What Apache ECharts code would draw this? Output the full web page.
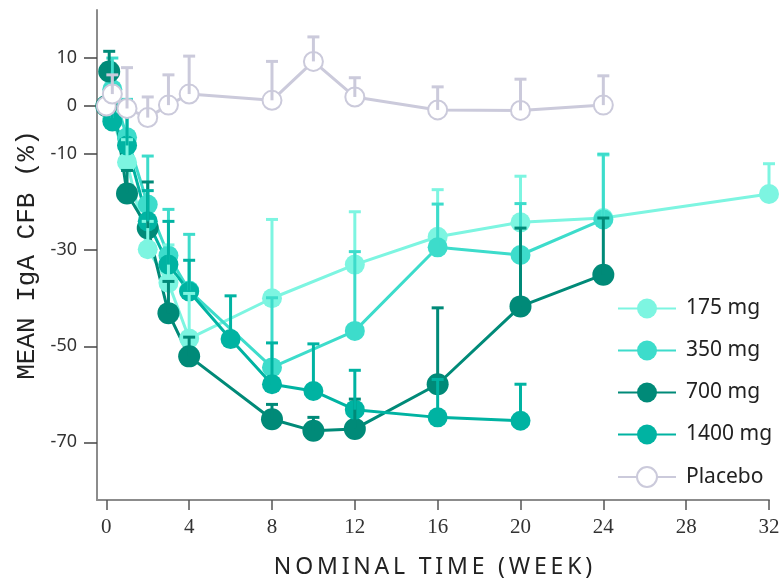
<!DOCTYPE html>
<html lang="en">
<head>
<meta charset="UTF-8">
<title>Mean IgA CFB</title>
<script src="https://cdn.jsdelivr.net/npm/echarts@6.0.0/dist/echarts.min.js"></script>
<style>html,body{margin:0;padding:0;background:#fff;}</style>
</head>
<body>
<div id="chart" style="width:783px;height:584px;"></div>
<script>
var xTicks = [0, 4, 8, 12, 16, 20, 24, 28, 32];
var yTicks = [10, 0, -10, -30, -50, -70];

var names = ['175 mg', '350 mg', '700 mg', '1400 mg', 'Placebo'];
var colors = ['#7df5e1', '#3ddccb', '#008a78', '#00b3a2', '#cbcadb'];

// week, mean change from baseline, top of the error bar
var weeks175 = [0, 0.29, 1, 2, 3, 4, 8, 12, 16, 20, 24, 32];
var mean175 = [0, -2.5, -11.7, -29.8, -36.8, -48.4, -40.0, -33.0, -27.2, -24.2, -23.3, -18.3];
var upper175 = [null, 3, -7, -24, -28.9, -39, -23.6, -22.0, -17.4, -14.6, -10.2, -12.0];

var weeks350 = [0, 0.29, 1, 2, 3, 4, 8, 12, 16, 20, 24];
var mean350 = [0, 3.5, -6.5, -20.5, -31.1, -38.4, -54.4, -46.8, -29.4, -31.0, -23.6];
var upper350 = [null, 10, 1.4, -10.4, -21.5, -26.7, -39.9, -30.3, -20.4, -20.3, -10.0];

var weeks700 = [0, 0.14, 1, 2, 3, 4, 8, 10, 12, 16, 20, 24];
var mean700 = [0, 7.2, -18.2, -25.4, -43.1, -52.1, -65.2, -67.6, -67.2, -57.9, -41.7, -35.1];
var upper700 = [null, 11.4, -13.4, -15.8, -36.5, -48.1, -62.1, -64.8, -61.0, -42.0, -25.4, -23.3];

var weeks1400 = [0, 0.29, 1, 2, 3, 4, 6, 8, 10, 12, 16, 20];
var mean1400 = [0, -3.2, -8.2, -24.0, -33.0, -38.6, -48.5, -57.9, -59.3, -63.2, -64.8, -65.5];
var upper1400 = [null, 1.0, -0.6, -17.6, -24.0, -32.1, -39.5, -49.3, -49.5, -55.0, -56.9, -57.9];

var weeksPbo = [0, 0.29, 1, 2, 3, 4, 8, 10, 12, 16, 20, 24];
var meanPbo = [0, 2.5, -0.5, -2.4, 0.2, 2.5, 1.2, 9.3, 1.9, -0.8, -0.9, 0.2];
var upperPbo = [null, 6.5, 8, 1.9, 6.5, 10.4, 9.3, 14.4, 5.9, 4.0, 5.6, 6.3];

var groups = [
    [weeks175, mean175, upper175],
    [weeks350, mean350, upper350],
    [weeks700, mean700, upper700],
    [weeks1400, mean1400, upper1400],
    [weeksPbo, meanPbo, upperPbo]
];

function spaced(s, gap) {
    return s.split('').join(gap);
}

function lineSeries(i) {
    var g = groups[i];
    var data = [];
    for (var k = 0; k < g[0].length; k++) data.push([g[0][k], g[1][k]]);
    var placebo = names[i] === 'Placebo';
    return {
        name: names[i],
        type: 'line',
        data: data,
        z: placebo ? 4 : 2,
        symbol: placebo ? 'emptyCircle' : 'circle',
        symbolSize: placebo ? 19 : (i === 2 ? 22 : 20),
        showAllSymbol: true,
        lineStyle: { color: colors[i], width: 3 },
        itemStyle: placebo ? { color: colors[i], borderColor: colors[i], borderWidth: 3 } : { color: colors[i] },
        emphasis: { disabled: true },
        animation: false
    };
}

function barSeries(i) {
    var g = groups[i];
    var data = [];
    for (var k = 0; k < g[0].length; k++) {
        if (g[2][k] != null) data.push([g[0][k], g[1][k], g[2][k]]);
    }
    var c = colors[i];
    return {
        name: names[i] + ' sd',
        type: 'custom',
        data: data,
        z: names[i] === 'Placebo' ? 5 : 3,
        encode: { x: 0, y: [1, 2] },
        silent: true,
        animation: false,
        renderItem: function (params, api) {
            var p0 = api.coord([api.value(0), api.value(1)]);
            var p1 = api.coord([api.value(0), api.value(2)]);
            return {
                type: 'group',
                children: [
                    { type: 'line', shape: { x1: p0[0], y1: p0[1], x2: p1[0], y2: p1[1] }, style: { stroke: c, lineWidth: 3 } },
                    { type: 'line', shape: { x1: p1[0] - 6, y1: p1[1], x2: p1[0] + 6, y2: p1[1] }, style: { stroke: c, lineWidth: 3 } }
                ]
            };
        }
    };
}

var series = [];
for (var i = 0; i < names.length; i++) series.push(lineSeries(i));
for (var i = 0; i < names.length; i++) series.push(barSeries(i));

var chart = echarts.init(document.getElementById('chart'));
chart.setOption({
    backgroundColor: '#fff',
    animation: false,
    grid: { left: 97, right: 14, top: 10, bottom: 81 },
    legend: {
        data: names,
        orient: 'vertical',
        left: 612,
        top: 293,
        itemWidth: 58,
        itemHeight: 25,
        itemGap: 21,
        selectedMode: false,
        textStyle: { fontFamily: 'Noto Sans', fontSize: 21, color: '#222', padding: [0, 0, 0, 5] }
    },
    xAxis: {
        type: 'value',
        min: -0.45,
        max: 32,
        name: spaced('NOMINAL TIME (WEEK)', '\u2009'),
        nameLocation: 'middle',
        nameGap: 56,
        nameTextStyle: { fontFamily: 'Noto Sans', fontSize: 23, color: '#222' },
        axisLine: { show: true, onZero: false, lineStyle: { color: '#8c8c8c', width: 2 } },
        axisTick: { show: true, customValues: xTicks, length: 10, lineStyle: { color: '#555', width: 1.5 } },
        axisLabel: { customValues: xTicks, margin: 17, fontFamily: 'Liberation Sans Narrow', fontSize: 21, color: '#333' },
        splitLine: { show: false }
    },
    yAxis: {
        type: 'value',
        min: -82,
        max: 20,
        name: 'MEAN IgA CFB (%)',
        nameLocation: 'middle',
        nameGap: 55,
        nameTextStyle: { fontFamily: 'Liberation Mono', fontSize: 26, color: '#222' },
        axisLine: { show: true, onZero: false, lineStyle: { color: '#8c8c8c', width: 2 } },
        axisTick: { show: true, customValues: yTicks, length: 13, lineStyle: { color: '#444', width: 1.5 } },
        axisLabel: { customValues: yTicks, margin: 20, fontFamily: 'Noto Sans', fontSize: 18, color: '#333' },
        splitLine: { show: false }
    },
    series: series
});
</script>
</body>
</html>
